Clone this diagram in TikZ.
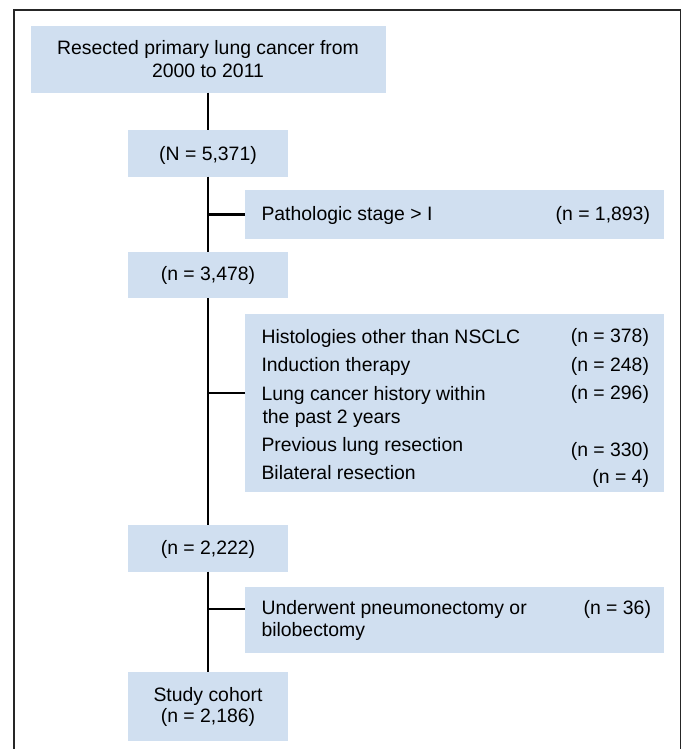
\documentclass[tikz,border=0pt]{standalone}
\usepackage{fontspec}
\setmainfont{Liberation Sans}
\definecolor{boxblue}{RGB}{208,223,240}
\begin{document}
\begin{tikzpicture}[x=1pt,y=-1pt,
  box/.style={fill=boxblue, draw=none, inner sep=0pt, outer sep=0pt},
  txt/.style={inner sep=0pt, outer sep=0pt, font=\fontsize{19.4}{23.4}\selectfont},
  conn/.style={line width=2.8pt, black},
  frameline/.style={line width=1.2pt, black!85}]
\useasboundingbox (0,0) rectangle (683,749);
\draw[frameline] (14,749) -- (14,10) -- (680.5,10) -- (680.5,749);

% boxes
\node[box, minimum width=355, minimum height=66.7] (top) at (208,59.35) {};
\node[box, minimum width=159.4, minimum height=46.7] (n5371) at (208,153.35) {};
\node[box, minimum width=419, minimum height=48.5] (path) at (454.5,214.25) {};
\node[box, minimum width=159.4, minimum height=46] (n3478) at (208,275.3) {};
\node[box, minimum width=419, minimum height=177.7] (hist) at (454.5,402.85) {};
\node[box, minimum width=159.4, minimum height=46.7] (n2222) at (208,548.35) {};
\node[box, minimum width=419, minimum height=65.4] (under) at (454.5,620) {};
\node[box, minimum width=159.4, minimum height=68.4] (study) at (208,706.5) {};

% texts
\node[txt, anchor=base] (t1a) at (208,54.3) {Resected primary lung cancer from};
\node[txt, anchor=base] (t1b) at (208,77.7) {2000 to 2011};
\node[txt, anchor=base] (t2) at (208,160) {(N = 5,371)};
\node[txt, anchor=base] (t3) at (208,280.7) {(n = 3,478)};
\node[txt, anchor=base] (t4) at (208,554.3) {(n = 2,222)};
\node[txt, anchor=base] (t5a) at (208,701.7) {Study cohort};
\node[txt, anchor=base] (t5b) at (208,722.7) {(n = 2,186)};

\node[txt, anchor=base west] (p1) at (261.5,220.7) {Pathologic stage > I};
\node[txt, anchor=base east] (p1n) at (650,220.7) {(n = 1,893)};

\node[txt, anchor=base west] (h1) at (261.5,343) {Histologies other than NSCLC};
\node[txt, anchor=base east] (h1n) at (649,342.5) {(n = 378)};
\node[txt, anchor=base west] (h2) at (261.5,371.5) {Induction therapy};
\node[txt, anchor=base east] (h2n) at (649,371) {(n = 248)};
\node[txt, anchor=base west] (h3a) at (261.5,400) {Lung cancer history within};
\node[txt, anchor=base west] (h3b) at (262.5,423.3) {the past 2 years};
\node[txt, anchor=base east] (h3n) at (649,399) {(n = 296)};
\node[txt, anchor=base west] (h4) at (261.5,451) {Previous lung resection};
\node[txt, anchor=base east] (h4n) at (649,456) {(n = 330)};
\node[txt, anchor=base west] (h5) at (261.5,479.5) {Bilateral resection};
\node[txt, anchor=base east] (h5n) at (649,483.3) {(n = 4)};

\node[txt, anchor=base west] (u1a) at (261.5,614.3) {Underwent pneumonectomy or};
\node[txt, anchor=base west] (u1b) at (261.5,636.7) {bilobectomy};
\node[txt, anchor=base east] (u1n) at (651,614.3) {(n = 36)};

% connectors
\coordinate (histin) at (245,393);
\coordinate (underin) at (245,609);
\draw[conn] (top.south) -- (n5371.north);
\draw[conn] (n5371.south) -- (n3478.north);
\draw[conn] (n3478.south) -- (n2222.north);
\draw[conn] (n2222.south) -- (study.north);
\draw[conn] (path.west) -- (path.west -| n5371.south);
\draw[conn] (histin) -- (histin -| n3478.south);
\draw[conn] (underin) -- (underin -| n2222.south);
\end{tikzpicture}
\end{document}
